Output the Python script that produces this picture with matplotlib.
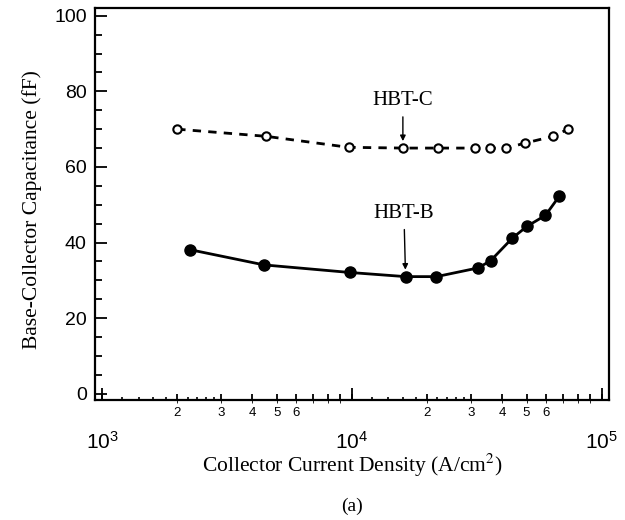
import matplotlib
matplotlib.use("Agg")
import matplotlib.pyplot as plt
import numpy as np
from matplotlib.ticker import FixedLocator, FixedFormatter, NullFormatter

plt.rcParams["mathtext.fontset"] = "custom"
plt.rcParams["mathtext.rm"] = "Liberation Sans"
plt.rcParams["mathtext.it"] = "Liberation Sans:italic"
plt.rcParams["mathtext.bf"] = "Liberation Sans:bold"

# ---- data ----
hbt_c_x = [2000, 4550, 9700, 16000, 22100, 31000, 35700, 41500, 49200, 63800, 73300]
hbt_c_y = [70.0, 68.1, 65.2, 65.0, 65.0, 65.0, 65.0, 65.0, 66.3, 68.1, 70.0]

hbt_b_x = [2260, 4450, 9800, 16400, 21800, 32000, 35900, 43900, 50200, 59500, 67500]
hbt_b_y = [38.1, 34.1, 32.1, 31.0, 31.0, 33.3, 35.2, 41.2, 44.3, 47.2, 52.2]

y_major = [0, 20, 40, 60, 80, 100]
decades = [1e3, 1e4, 1e5]
decade_labels = [r"$10^{3}$", r"$10^{4}$", r"$10^{5}$"]
digit_labels = ["", "2", "3", "4", "5", "6", "", "", ""]

serif = ["Liberation Serif", "DejaVu Serif"]
sans = ["Liberation Sans", "DejaVu Sans"]

fig = plt.figure(figsize=(6.25, 5.2), dpi=100)
ax = fig.add_axes([0.152, 0.231, 0.822, 0.754])

ax.plot(hbt_c_x, hbt_c_y, color="black", lw=2.0, ls=(0, (3, 2.6)),
        marker="o", ms=6, mfc="white", mec="black", mew=1.5, zorder=3)
ax.plot(hbt_b_x, hbt_b_y, color="black", lw=2.0, ls="-",
        marker="o", ms=8, mfc="black", mec="black", zorder=3)

ax.set_xscale("log")
ax.set_xlim(10 ** 2.972, 10 ** 5.028)
ax.set_ylim(-1.6, 102.1)

# x ticks: digit ticks (1..9 per decade) as majors, small sub ticks as minors
major_x = [m * d for d in decades[:-1] for m in range(1, 10)] + [decades[-1]]
ax.xaxis.set_major_locator(FixedLocator(major_x))
ax.xaxis.set_major_formatter(FixedFormatter(digit_labels * 2 + [""]))
minor_x = [m * d for d in decades[:-1] for m in (1.2, 1.4, 1.6, 1.8, 2.2, 2.4, 2.6, 2.8)]
ax.xaxis.set_minor_locator(FixedLocator(minor_x))
ax.xaxis.set_minor_formatter(NullFormatter())
ax.tick_params(axis="x", which="major", direction="in", length=4.5, width=1.3,
               labelsize=9.5, pad=5)
ax.tick_params(axis="x", which="minor", direction="in", length=2.2, width=1.2)
for lab in ax.get_xticklabels():
    lab.set_family(sans)

sec = ax.secondary_xaxis("bottom")
sec.set_xticks(decades)
sec.set_xticklabels(decade_labels)
sec.tick_params(direction="in", length=8.5, width=1.3, labelsize=15, pad=22)
sec.spines["bottom"].set_visible(False)
for lab in sec.get_xticklabels():
    lab.set_family(sans)

ax.set_yticks(y_major)
ax.set_yticks(np.arange(0, 101, 5), minor=True)
ax.tick_params(axis="y", which="major", direction="in", length=8.5, width=1.3,
               labelsize=14, pad=6)
ax.tick_params(axis="y", which="minor", direction="in", length=5, width=1.3)
for lab in ax.get_yticklabels():
    lab.set_family(sans)

for s in ax.spines.values():
    s.set_linewidth(1.6)

xl = ax.set_xlabel(r"Collector Current Density (A/cm$^{2}$)", family=serif,
                   fontsize=15.5, labelpad=24)
xl.set_math_fontfamily("stix")
ax.set_ylabel("Base-Collector Capacitance (fF)", family=serif, fontsize=15.5)
ax.yaxis.set_label_coords(-0.103, 0.485)

arrow = dict(arrowstyle="-|>", color="black", lw=1.0, mutation_scale=8,
             shrinkA=3, shrinkB=5)
ax.annotate("HBT-C", xy=(hbt_c_x[3], hbt_c_y[3]), xytext=(hbt_c_x[3], 77.6),
            ha="center", va="center", fontsize=15, family=serif,
            arrowprops=arrow)
ax.annotate("HBT-B", xy=(hbt_b_x[3], hbt_b_y[3]), xytext=(hbt_b_x[3] * 0.985, 47.8),
            ha="center", va="center", fontsize=15, family=serif,
            arrowprops=arrow)

fig.text(0.563, 0.027, "(a)", family=serif, fontsize=14, ha="center", va="center")

fig.savefig("out.png", dpi=100)
